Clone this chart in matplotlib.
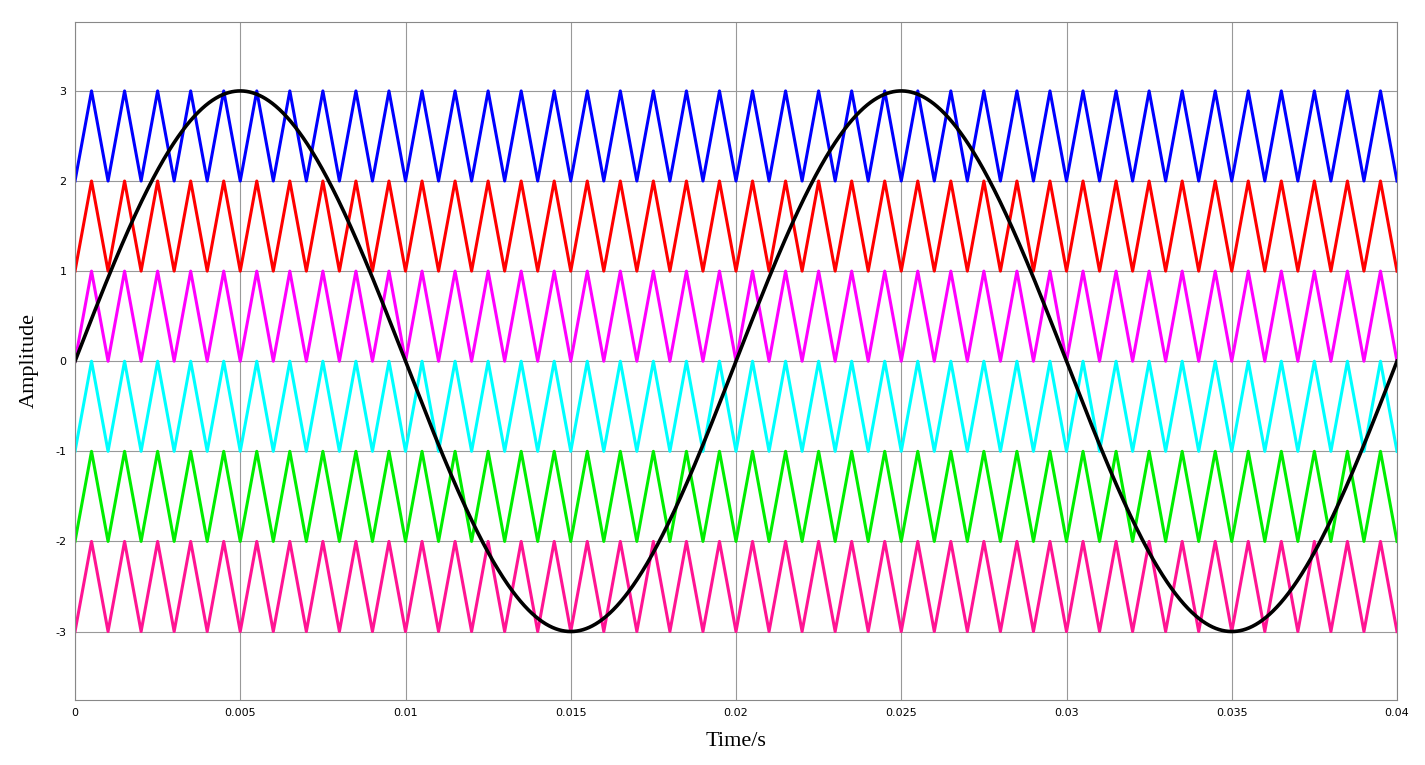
import numpy as np
import matplotlib.pyplot as plt

plt.rcParams["axes.unicode_minus"] = False

# --- Parameters ---
SINE_AMP      = 3.0
SINE_FREQ     = 50.0          # Hz
CARRIER_FREQ  = 1000.0        # Hz
T_END         = 0.04
carrier_lows   = [2, 1, 0, -1, -2, -3]
carrier_colors = ["#0000ff", "#ff0000", "#ff00ff", "#00ffff", "#00ee00", "#ff1493"]

# --- Signals ---
t = np.linspace(0, T_END, 8001)
phase = (t * CARRIER_FREQ) % 1.0
tri = 1 - np.abs(1 - 2 * phase)          # 0 -> 1 -> 0 every carrier period
sine = SINE_AMP * np.sin(2 * np.pi * SINE_FREQ * t)

fig = plt.figure(figsize=(14.25, 7.65), dpi=100)
ax = fig.add_axes([75 / 1425, 65 / 765, 1322 / 1425, 678 / 765])

for low, c in zip(carrier_lows, carrier_colors):
    ax.plot(t, low + tri, color=c, lw=2.2)
ax.plot(t, sine, color="black", lw=2.6)

ax.set_xlim(0, T_END)
ax.set_ylim(-3.76, 3.765)
ax.set_xticks(np.arange(0, 0.0401, 0.005))
ax.set_xticklabels(["0", "0.005", "0.01", "0.015", "0.02", "0.025", "0.03", "0.035", "0.04"])
ax.set_yticks(range(-3, 4))
ax.tick_params(length=0, labelsize=8, pad=6)
ax.grid(True, color="#999999", lw=0.8)
for s in ax.spines.values():
    s.set_color("#888888")

ax.set_xlabel("Time/s", fontsize=16, family="Liberation Serif", labelpad=10)
ax.set_ylabel("Amplitude", fontsize=16, family="Liberation Serif", labelpad=12)

plt.savefig("out.png", dpi=100)
